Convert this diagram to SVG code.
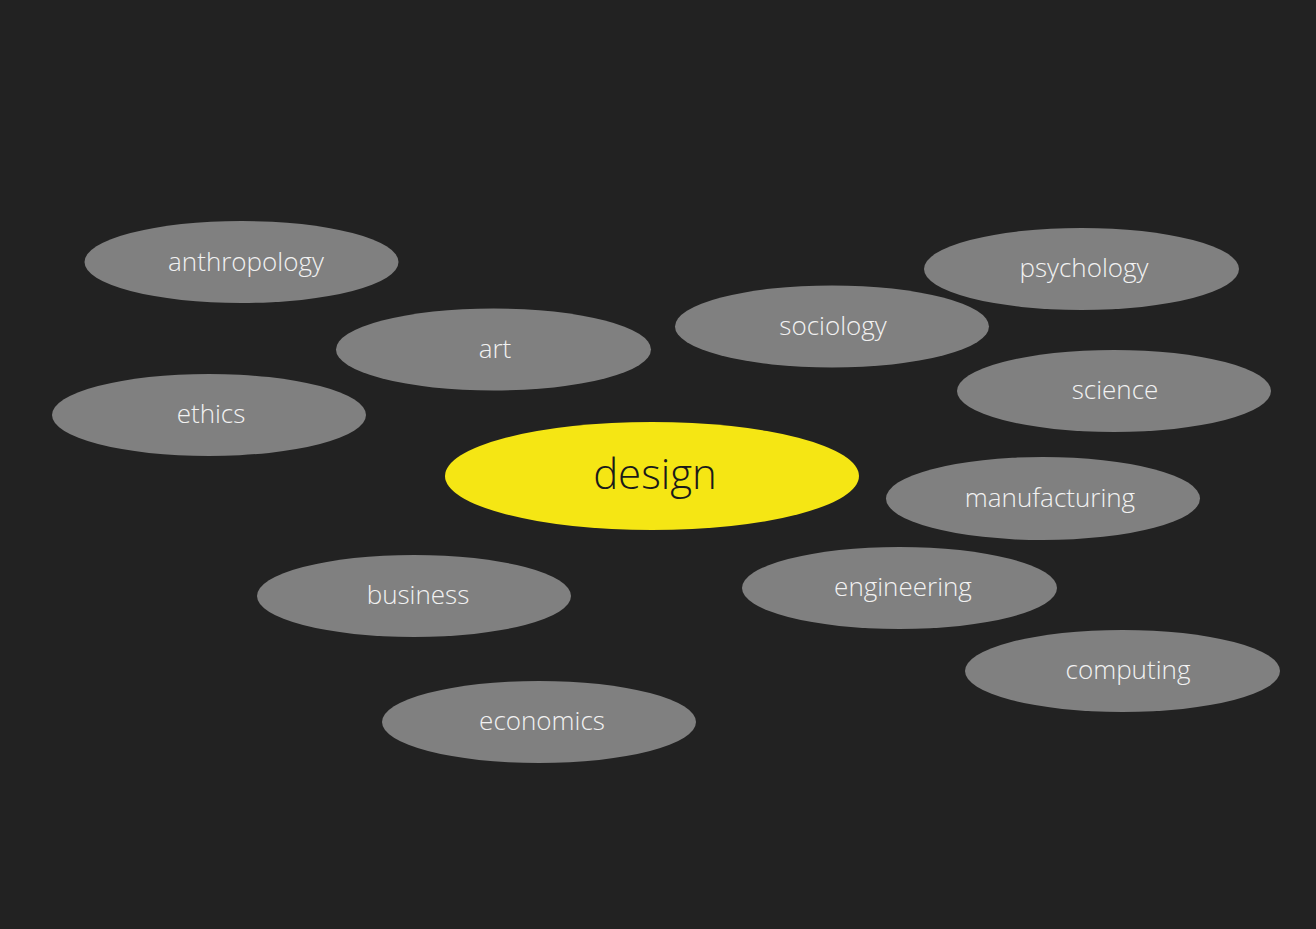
<svg xmlns="http://www.w3.org/2000/svg" width="1316" height="929" viewBox="0 0 1316 929">
<style>
.n ellipse{fill:#808080;}
.n text{fill:#f2f2f2;font-family:"Open Sans","Noto Sans","Liberation Sans",sans-serif;font-weight:300;font-size:26px;text-anchor:middle;}
#design ellipse{fill:#f5e614;}
#design text{fill:#1a1a1a;font-size:42px;}
</style>
<rect width="1316" height="929" fill="#222222"/>
<g id="connectors"></g>
<g id="anthropology" class="n"><ellipse cx="241.5" cy="262" rx="157" ry="41"/><text x="246" y="271">anthropology</text></g>
<g id="art" class="n"><ellipse cx="493.5" cy="349.5" rx="157.5" ry="41"/><text x="495" y="358">art</text></g>
<g id="ethics" class="n"><ellipse cx="209" cy="415" rx="157" ry="41"/><text x="211" y="423">ethics</text></g>
<g id="sociology" class="n"><ellipse cx="832" cy="326.5" rx="157" ry="41"/><text x="833" y="335">sociology</text></g>
<g id="psychology" class="n"><ellipse cx="1081.5" cy="269" rx="157.5" ry="41"/><text x="1084" y="277">psychology</text></g>
<g id="science" class="n"><ellipse cx="1114" cy="391" rx="157" ry="41"/><text x="1115" y="399">science</text></g>
<g id="design" class="n"><ellipse cx="652" cy="476" rx="207" ry="54"/><text x="655" y="489">design</text></g>
<g id="manufacturing" class="n"><ellipse cx="1043" cy="498.5" rx="157" ry="41.5"/><text x="1050" y="507">manufacturing</text></g>
<g id="business" class="n"><ellipse cx="414" cy="596" rx="157" ry="41"/><text x="418" y="604">business</text></g>
<g id="engineering" class="n"><ellipse cx="899.5" cy="588" rx="157.5" ry="41"/><text x="903" y="596">engineering</text></g>
<g id="computing" class="n"><ellipse cx="1122.5" cy="671" rx="157.5" ry="41"/><text x="1128" y="679">computing</text></g>
<g id="economics" class="n"><ellipse cx="539" cy="722" rx="157" ry="41"/><text x="542" y="730">economics</text></g>
</svg>
